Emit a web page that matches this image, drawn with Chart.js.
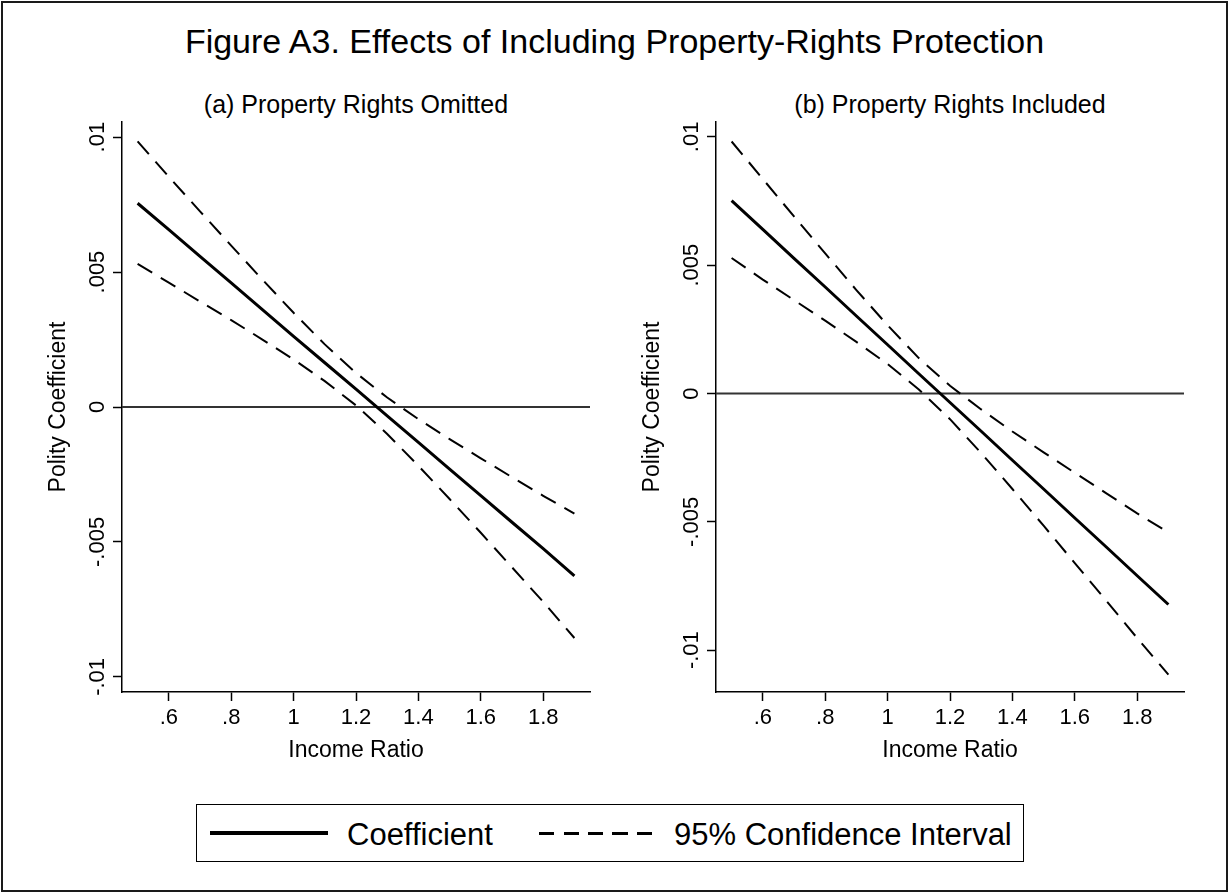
<!DOCTYPE html>
<html>
<head>
<meta charset="utf-8">
<title>Figure A3</title>
<script src="https://cdn.jsdelivr.net/npm/chart.js@4.4.1/dist/chart.umd.min.js"></script>
<style>
  html, body { margin: 0; padding: 0; background: #fff; }
  #page { position: relative; width: 1229px; height: 893px; overflow: hidden; font-family: "Liberation Sans", Arial, sans-serif; color: #000; }
  #frame { position: absolute; left: 1px; top: 1px; width: 1227px; height: 891px; box-sizing: border-box; border: 2px solid #1a1a1a; }
  .txt { position: absolute; white-space: nowrap; line-height: 1; }
  .panel { position: absolute; top: 0; width: 600px; height: 800px; }
  #legend { position: absolute; left: 196px; top: 804px; width: 828px; height: 58px; box-sizing: border-box; border: 1.5px solid #000; }
  .solid { position: absolute; left: 210px; top: 831px; width: 118px; height: 4px; background: #000; }
  .dashed { position: absolute; left: 539px; top: 832px; width: 113px; height: 2.5px;
            background: repeating-linear-gradient(to right, #000 0 15px, transparent 15px 24.5px); }
</style>
</head>
<body>
<div id="page">
  <div id="frame"></div>
  <div class="txt" style="left:0;width:1229px;text-align:center;top:24px;font-size:34px">Figure A3. Effects of Including Property-Rights Protection</div>
  <div class="txt" style="left:56px;width:600px;text-align:center;top:92px;font-size:25px">(a) Property Rights Omitted</div>
  <div class="txt" style="left:650px;width:600px;text-align:center;top:92px;font-size:25px">(b) Property Rights Included</div>

  <div class="panel" style="left:0"><canvas id="panelA" width="600" height="800"></canvas></div>
  <div class="panel" style="left:594px"><canvas id="panelB" width="600" height="800"></canvas></div>

  <div id="legend"></div>
  <div class="solid"></div>
  <div class="txt" style="left:347px;top:819px;font-size:31px">Coefficient</div>
  <div class="dashed"></div>
  <div class="txt" style="left:674px;top:819px;font-size:31px">95% Confidence Interval</div>
</div>

<script>
// income ratio values where the estimates were evaluated
const incomeRatio = [0.5, 0.6, 0.7, 0.8, 0.9, 1.0, 1.1, 1.2, 1.3, 1.4, 1.5, 1.6, 1.7, 1.8, 1.9];

// (a) property rights omitted
const coefA  = [0.00755, 0.00657, 0.00558, 0.0046, 0.00361, 0.00262, 0.00164, 0.00066, -0.00033, -0.00131, -0.0023, -0.00328, -0.00427, -0.00525, -0.00626];
const upperA = [0.00984, 0.00853, 0.00725, 0.00598, 0.00472, 0.00349, 0.00232, 0.00126, 0.00035, -0.00045, -0.00119, -0.0019, -0.0026, -0.00329, -0.00395];
const lowerA = [0.0053, 0.00461, 0.00391, 0.00322, 0.0025, 0.00176, 0.00096, 0.00006, -0.001, -0.00218, -0.00341, -0.00466, -0.00594, -0.00722, -0.00856];

// (b) property rights included
const coefB  = [0.00752, 0.0064, 0.00527, 0.00415, 0.00302, 0.0019, 0.00077, -0.00035, -0.00147, -0.0026, -0.00372, -0.00485, -0.00597, -0.0071, -0.00822];
const upperB = [0.00982, 0.00836, 0.0069, 0.00546, 0.00403, 0.00266, 0.00138, 0.0003, -0.00062, -0.00148, -0.00229, -0.00309, -0.00388, -0.00467, -0.00541];
const lowerB = [0.00528, 0.00444, 0.00364, 0.00284, 0.00201, 0.00115, 0.00016, -0.001, -0.00232, -0.00372, -0.00515, -0.00661, -0.00806, -0.00953, -0.01095];

const xTicks = [0.6, 0.8, 1, 1.2, 1.4, 1.6, 1.8];
const yTicks = [-0.01, -0.005, 0, 0.005, 0.01];

const family = '"Liberation Sans", Arial, sans-serif';

// stata style labels: no leading zero
function fmt(v) {
  return String(v).replace(/^(-?)0\./, '$1.');
}

function points(ys) {
  return incomeRatio.map((x, i) => ({x: x, y: ys[i]}));
}

const zeroLine = {
  id: 'zeroLine',
  beforeDatasetsDraw(chart) {
    const {ctx, chartArea, scales} = chart;
    const y = scales.y.getPixelForValue(0);
    ctx.save();
    ctx.strokeStyle = '#333';
    ctx.lineWidth = 2;
    ctx.beginPath();
    ctx.moveTo(chartArea.left, y);
    ctx.lineTo(chartArea.right, y);
    ctx.stroke();
    ctx.restore();
  }
};

function makePanel(id, coef, upper, lower, yMin, yMax) {
  const dashed = {borderColor: '#000', borderWidth: 2, borderDash: [17, 10], pointRadius: 0, tension: 0, fill: false};
  return new Chart(document.getElementById(id), {
    type: 'line',
    data: {
      datasets: [
        Object.assign({label: 'upper', data: points(upper)}, dashed),
        Object.assign({label: 'lower', data: points(lower)}, dashed),
        {label: 'Coefficient', data: points(coef), borderColor: '#000', borderWidth: 3, pointRadius: 0, tension: 0, fill: false}
      ]
    },
    options: {
      responsive: false,
      animation: false,
      layout: {padding: {top: 122, right: 10, bottom: 28, left: 0}},
      plugins: {legend: {display: false}, tooltip: {enabled: false}},
      scales: {
        x: {
          type: 'linear',
          min: 0.45,
          max: 1.95,
          afterBuildTicks: s => { s.ticks = xTicks.map(v => ({value: v})); },
          afterFit: s => { s.height = 80; },
          grid: {drawOnChartArea: false, drawTicks: true, tickLength: 9, tickWidth: 1.5, tickColor: '#000'},
          border: {display: true, color: '#000', width: 1.5},
          ticks: {font: {family: family, size: 22}, color: '#000', padding: 3.8, minRotation: 0, maxRotation: 0, autoSkip: false, callback: v => fmt(v)},
          title: {display: true, text: 'Income Ratio', font: {family: family, size: 23}, color: '#000', padding: {top: 0, bottom: 8}}
        },
        y: {
          type: 'linear',
          min: yMin,
          max: yMax,
          afterBuildTicks: s => { s.ticks = yTicks.map(v => ({value: v})); },
          afterFit: s => { s.width = 122; },
          grid: {drawOnChartArea: false, drawTicks: true, tickLength: 9, tickWidth: 1.5, tickColor: '#000'},
          border: {display: true, color: '#000', width: 1.5},
          ticks: {font: {family: family, size: 22}, color: '#000', padding: -9.8, minRotation: 90, maxRotation: 90, crossAlign: 'center', autoSkip: false, callback: v => fmt(v)},
          title: {display: true, text: 'Polity Coefficient', font: {family: family, size: 23}, color: '#000', padding: {top: 44.7, bottom: 0}}
        }
      }
    },
    plugins: [zeroLine]
  });
}

makePanel('panelA', coefA, upperA, lowerA, -0.01056, 0.01056);
makePanel('panelB', coefB, upperB, lowerB, -0.01163, 0.01058);
</script>
</body>
</html>
